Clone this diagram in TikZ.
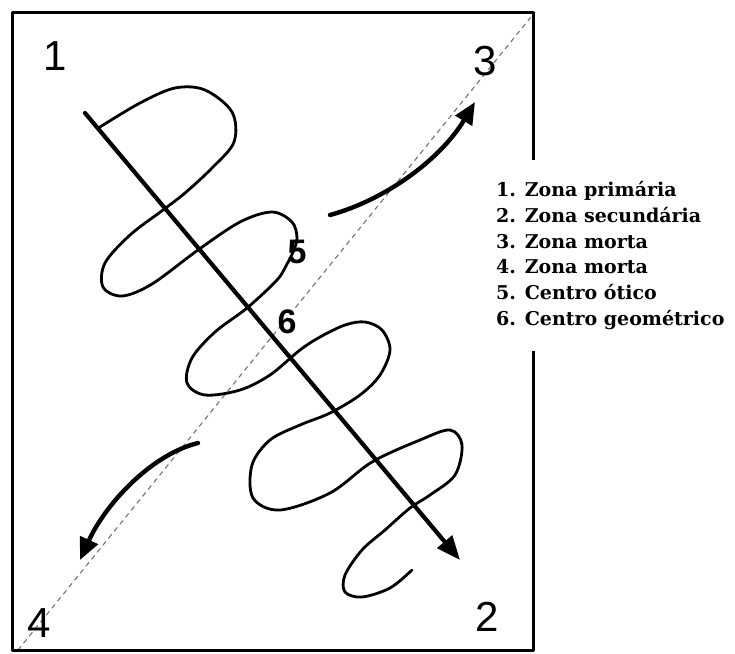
\documentclass[tikz,border=0pt]{standalone}
\usepackage{fontspec}
\usetikzlibrary{arrows.meta}
\newfontfamily\legfont{DejaVu Serif}
\newfontfamily\numfont{Liberation Sans}
\tikzset{
  moldura/.style={line width=3pt},
  diagonal/.style={black!55,line width=1.1pt,dash pattern=on 4.5pt off 4.5pt},
  leitura/.style={line width=2.8pt,line cap=round,line join=round},
  seta/.style={line width=4.2pt,-{Triangle[length=24pt,width=19pt]}},
  curva/.style={line width=4.4pt,line cap=round,-{Triangle[length=22pt,width=19pt]}},
  zona/.style={font=\numfont\fontsize{42}{42}\selectfont},
  centro/.style={font=\numfont\bfseries\fontsize{34}{34}\selectfont},
  legenda/.style={fill=white,align=left,anchor=north west,inner xsep=10pt,inner ysep=21pt,
    font=\legfont\bfseries\fontsize{19}{25.8}\selectfont}
}
\begin{document}
\begin{tikzpicture}[x=1pt,y=-1pt,line cap=round,line join=round]
\useasboundingbox (0,0) rectangle (735,653);
% diagonal tracejada (zonas mortas)
\coordinate (c4) at (18,650);
\coordinate (c3) at (535,12);
\draw[diagonal] (c4) -- (c3);
% percurso da leitura
\draw[leitura] plot[smooth,tension=0.55] coordinates {
  (100,127) (140,103) (175,88) (205,90) (232,112) (234,142) (212,168) (185,193)
  (163,210) (130,235) (105,263) (103,287) (122,296) (152,284) (198,250) (240,222)
  (272,212) (292,222) (297,238) (293,252) (287,264) (277,280) (247,308) (215,332)
  (192,358) (187,383) (205,395) (240,390) (270,375) (300,350) (320,337) (345,325)
  (365,322) (382,330) (390,350) (380,375) (360,395) (330,413) (300,425) (270,440)
  (252,465) (253,498) (280,510) (330,493) (372,462) (420,440) (450,430) (462,445)
  (455,475) (430,495) (410,508) (385,530) (362,550) (345,575) (345,592) (362,597)
  (390,588) (412,570)};
% eixo principal
\coordinate (inicio) at (85,113);
\coordinate (fim) at (460,560);
\draw[seta] (inicio) -- (fim);
% setas curvas
\coordinate (s1) at (330,215);
\coordinate (t1) at (475,102);
\draw[curva] (s1) .. controls (385,200) and (440,160) .. (t1);
\coordinate (s2) at (198,443);
\coordinate (t2) at (80,560);
\draw[curva] (s2) .. controls (150,455) and (105,505) .. (t2);
% moldura
\draw[moldura] (12,12) rectangle (533,650);
% legenda
\node[legenda] (leg) at (486,160) {1. Zona primária\\2. Zona secundária\\3. Zona morta\\4. Zona morta\\5. Centro ótico\\6. Centro geométrico};
% numeros
\node[zona] (n1) at (55,56) {1};
\node[zona] (n2) at (487,617) {2};
\node[zona] (n3) at (485,61) {3};
\node[zona] (n4) at (39,623) {4};
\node[centro] (n5) at (297,252) {5};
\node[centro] (n6) at (287,322) {6};
\end{tikzpicture}
\end{document}
